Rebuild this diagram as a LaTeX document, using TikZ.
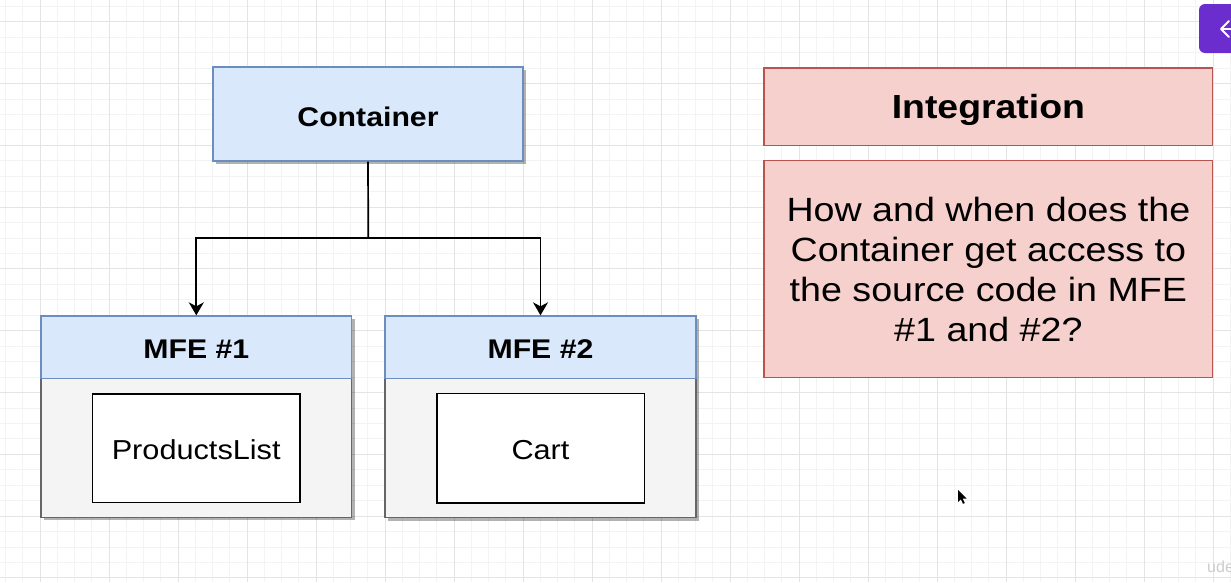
\documentclass[tikz,border=0pt]{standalone}
\usepackage{fontspec}
\setmainfont{Liberation Sans}
\usepackage{graphicx}
\usetikzlibrary{positioning, arrows.meta, shadows}

\definecolor{bluefill}{HTML}{DAE8FC}
\definecolor{blueline}{HTML}{6C8EBF}
\definecolor{greyfill}{HTML}{F4F4F4}
\definecolor{greyline}{HTML}{666666}
\definecolor{redfill}{HTML}{F6D0CC}
\definecolor{redline}{HTML}{B85450}
\definecolor{purplebtn}{RGB}{107,45,206}
\definecolor{gridminor}{HTML}{F3F3F3}
\definecolor{gridmajor}{HTML}{E4E4E4}

% the screenshot is stretched sideways a little, and its text sits a bit low
\newcommand{\wide}[2][3pt]{\raisebox{-#1}[\height][\depth]{\scalebox{1.12}[1]{#2}}}

\begin{document}
\begin{tikzpicture}[x=1pt, y=-1pt,
    box/.style={draw, line width=1.4pt, inner sep=0pt, align=center},
    boxshadow/.style={drop shadow={shadow xshift=3pt, shadow yshift=-3pt, opacity=0.3, fill=black}},
    bluebox/.style={box, draw=blueline, fill=bluefill},
    redbox/.style={box, draw=redline, fill=redfill},
    headfont/.style={font=\bfseries\fontsize{27}{32}\selectfont},
    link/.style={line width=1.7pt, -{Stealth[length=13pt, width=15pt, inset=4pt]}}]

    \useasboundingbox (0,0) rectangle (1231,582);
    \clip (0,0) rectangle (1231,582);
    \fill[white] (0,0) rectangle (1231,582);

    % background grid
    \foreach \i in {0,...,71}
        \draw[gridminor, line width=0.9pt] ({5.5+17.25*\i},0) -- ({5.5+17.25*\i},582);
    \foreach \i in {0,...,37}
        \draw[gridminor, line width=0.9pt] (0,{6.25+15.45*\i}) -- (1231,{6.25+15.45*\i});
    \foreach \i in {0,...,17}
        \draw[gridmajor, line width=1pt] ({40+69*\i},0) -- ({40+69*\i},582);
    \foreach \i in {0,...,9}
        \draw[gridmajor, line width=1pt] (0,{21.7+61.8*\i}) -- (1231,{21.7+61.8*\i});

    % container
    \node[bluebox, boxshadow, headfont, minimum width=310pt, minimum height=94pt]
        (container) at (368,114) {\wide{Container}};

    % first micro frontend
    \node[box, draw=greyline, fill=greyfill, boxshadow, minimum width=310.7pt, minimum height=201.3pt]
        (mfe1) at (196.3,416.8) {};
    \node[bluebox, headfont, minimum width=310.7pt, minimum height=62.3pt]
        (mfe1head) at (196.3,347.2) {\wide[2pt]{MFE \#1}};
    \node[box, draw=black, fill=white, line width=1.6pt, minimum width=207.7pt, minimum height=108.6pt,
        font=\fontsize{27.4}{32}\selectfont]
        (products) at (196.2,448) {\wide[2pt]{ProductsList}};

    % second micro frontend
    \node[box, draw=greyline, fill=greyfill, boxshadow, minimum width=311pt, minimum height=201.5pt]
        (mfe2) at (540.5,417) {};
    \node[bluebox, headfont, minimum width=311pt, minimum height=62.3pt]
        (mfe2head) at (540.5,347.2) {\wide[2pt]{MFE \#2}};
    \node[box, draw=black, fill=white, line width=1.6pt, minimum width=207.6pt, minimum height=109.4pt,
        font=\fontsize{27.4}{32}\selectfont]
        (cart) at (540.5,448) {\wide[2pt]{Cart}};

    % connectors
    \coordinate (split) at (368.3,238.3);
    \draw[line width=1.7pt] (container.south) -- (split);
    \draw[link] (split) -| (mfe1head.north);
    \draw[link] (split) -| (mfe2head.north);

    % integration notes
    \node[redbox, font=\bfseries\fontsize{33.4}{40}\selectfont, minimum width=448.7pt, minimum height=77.7pt]
        (integration) at (988.4,106.9) {\wide{Integration}};
    \node[redbox, font=\fontsize{33.6}{40}\selectfont, minimum width=448.7pt, minimum height=217pt]
        (question) at (988.4,269.2)
        {\wide[4pt]{\begin{tabular}{@{}c@{}}How and when does the\\Container get access to\\the source code in MFE\\\#1 and \#2?\end{tabular}}};

    % back button in the corner
    \fill[purplebtn, rounded corners=6pt] (1199,4) rectangle (1250,53);
    \draw[white, line width=2pt, line cap=round, line join=round] (1229,21) -- (1221,29) -- (1229,37);
    \draw[white, line width=2pt] (1221,29) -- (1240,29);

    % mouse pointer
    \fill[black] (958,490) -- ++(0,12) -- ++(2.8,-2.8) -- ++(2.2,4.6) -- ++(1.8,-0.8)
        -- ++(-2.2,-4.5) -- ++(4,0) -- cycle;

    % watermark
    \node[anchor=west, inner sep=0pt, text=gray!40, font=\fontsize{16}{16}\selectfont] (mark) at (1207,567) {ude};

\end{tikzpicture}
\end{document}
